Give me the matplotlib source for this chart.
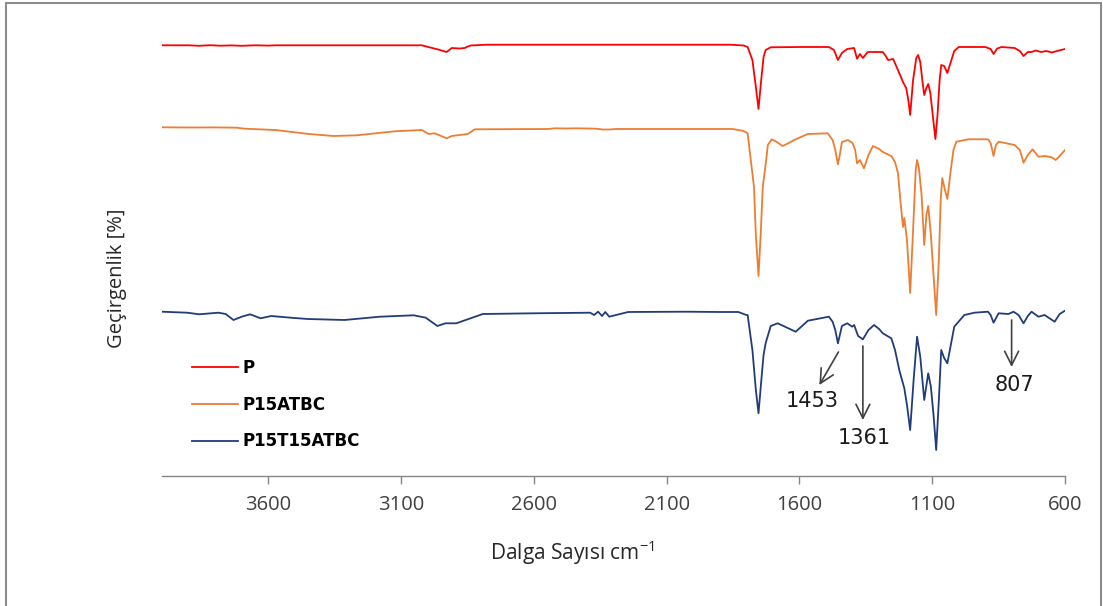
import numpy as np
import matplotlib.pyplot as plt
from matplotlib.patches import Rectangle
from matplotlib.lines import Line2D

# --- data (wavenumber cm-1, transmittance a.u.) ---
p_spec = [(4000, 430.7), (3900, 430.7), (3860, 430.2), (3820, 430.8), (3780, 430.3),
          (3740, 430.6), (3700, 430.2), (3650, 430.7), (3600, 430.4), (3570, 430.7),
          (3400, 430.7), (3200, 430.7), (3022, 430.7), (2990, 428.5), (2960, 426.5),
          (2928, 424), (2909, 428), (2880, 427.5), (2860, 428), (2849, 429.5),
          (2837, 430.5), (2777, 431.3), (2400, 431.3), (2000, 431.3), (1860, 431.3),
          (1810, 430.5), (1795, 429), (1777, 416), (1764, 389), (1754, 367),
          (1745, 393), (1735, 419), (1727, 426), (1708, 428.7), (1600, 429),
          (1489, 429), (1470, 426), (1455, 416), (1440, 423), (1420, 427),
          (1394, 428), (1383, 417.3), (1372, 422), (1361, 418), (1343, 424),
          (1286, 424), (1275, 420), (1266, 416), (1247, 417), (1229, 406),
          (1210, 394), (1198, 388), (1190, 376), (1183, 361), (1172, 396),
          (1160, 418), (1153, 421), (1145, 414), (1135, 391), (1130, 381),
          (1122, 388), (1115, 392), (1107, 383), (1098, 361), (1088, 337),
          (1080, 361), (1072, 396), (1066, 411), (1055, 410), (1043, 403),
          (1030, 414), (1017, 425), (1000, 429), (900, 429), (880, 427),
          (869, 422), (855, 427.5), (839, 429), (790, 428), (770, 425),
          (756, 420), (740, 424), (726, 424), (710, 425.5), (690, 424),
          (670, 425), (650, 423.5), (630, 425), (615, 426), (600, 427)]

p15atbc_spec = [(4000, 348.7), (3900, 348.5), (3800, 348.6), (3717, 348.3), (3690, 347.3),
                (3573, 346), (3447, 342), (3354, 340), (3267, 340.7), (3124, 344.7),
                (3022, 346), (2996, 342), (2973, 342.7), (2928, 337.7), (2909, 340),
                (2849, 342), (2822, 346.7), (2546, 347), (2520, 347.7), (2480, 347.5),
                (2440, 347.7), (2365, 347.3), (2340, 346.5), (2316, 346.5), (2290, 347),
                (1900, 347), (1851, 347), (1810, 345), (1795, 342.7), (1771, 289),
                (1764, 241), (1754, 200), (1745, 246), (1738, 289), (1725, 316),
                (1719, 331), (1704, 336.7), (1685, 334), (1663, 330), (1640, 333),
                (1620, 336), (1568, 342), (1493, 342.7), (1475, 336), (1465, 326),
                (1455, 311.7), (1448, 321), (1440, 334), (1417, 336), (1400, 333),
                (1390, 326), (1383, 312.7), (1372, 316), (1357, 307.7), (1340, 321),
                (1323, 330), (1300, 327), (1286, 324), (1254, 320), (1240, 314),
                (1229, 303), (1220, 276), (1210, 249), (1205, 258), (1195, 236),
                (1183, 183), (1172, 246), (1162, 306), (1157, 316), (1150, 308),
                (1140, 281), (1130, 231), (1122, 261), (1115, 270), (1105, 241),
                (1095, 201), (1085, 161), (1075, 216), (1068, 276), (1062, 298),
                (1052, 286), (1043, 277), (1030, 306), (1020, 326), (1009, 334.3),
                (964, 336.7), (890, 336.7), (880, 333), (869, 320), (860, 331),
                (850, 334.3), (790, 331), (770, 326), (756, 313.3), (740, 321),
                (722, 326.7), (700, 319.3), (675, 320), (650, 318.7), (635, 316),
                (620, 320), (600, 326)]

p15t15atbc_spec = [(4000, 164.3), (3905, 163.3), (3860, 161.7), (3788, 163.3), (3760, 162),
                   (3731, 156), (3700, 159.3), (3668, 161.7), (3629, 157.7), (3589, 160),
                   (3502, 158), (3450, 157), (3313, 156), (3180, 159.3), (3052, 160.7),
                   (3007, 158.3), (2963, 150), (2933, 152.7), (2892, 152.7), (2849, 156.7),
                   (2792, 162), (2602, 162.7), (2388, 163.3), (2373, 161), (2358, 164.3),
                   (2343, 160), (2331, 164), (2316, 159.3), (2245, 164), (2025, 164.3),
                   (1900, 164), (1830, 164), (1800, 161), (1795, 161), (1777, 126),
                   (1764, 86), (1754, 62.7), (1745, 91), (1735, 121), (1727, 133),
                   (1708, 150), (1682, 152.7), (1660, 150), (1644, 148), (1614, 144.3),
                   (1590, 150), (1568, 155.3), (1489, 159.3), (1475, 154.3), (1465, 146),
                   (1455, 132.7), (1440, 150), (1420, 152.7), (1401, 149.3), (1394, 151),
                   (1379, 140), (1361, 136.7), (1340, 146), (1319, 151), (1300, 147),
                   (1286, 142.7), (1254, 137.7), (1240, 126), (1224, 106), (1205, 87.7),
                   (1195, 71), (1183, 46), (1170, 96), (1157, 139.3), (1145, 119.3),
                   (1130, 76), (1115, 102.7), (1105, 89.3), (1095, 61), (1085, 26),
                   (1075, 76), (1066, 126), (1055, 118), (1043, 112.7), (1030, 131),
                   (1017, 149.3), (979, 161), (941, 163.3), (890, 164.3), (880, 161),
                   (869, 153.3), (850, 162.7), (813, 162), (794, 164.3), (775, 161),
                   (756, 152.7), (740, 160), (726, 164.3), (700, 159.3), (677, 161),
                   (660, 158), (639, 154.3), (620, 162), (600, 165.3)]

series = ['P', 'P15ATBC', 'P15T15ATBC']
colors = ['#FF0000', '#ED7D31', '#203C7A']
xticks = [3600, 3100, 2600, 2100, 1600, 1100, 600]

# peak labels: text, peak tip, arrow head, text position
peaks = [('1453', (1453, 124), (1525, 91), (1553, 75)),
         ('1361', (1361, 130), (1361, 56), (1357, 38)),
         ('807', (801, 156), (801, 109), (790, 91))]

W, H = 1103, 606
fig = plt.figure(figsize=(W / 100, H / 100), dpi=100)
ax = fig.add_axes([162 / W, 1 - 476 / H, 903 / W, 446 / H])

for spec, name, c in zip([p_spec, p15atbc_spec, p15t15atbc_spec], series, colors):
    d = np.array(spec)
    ax.plot(d[:, 0], d[:, 1], color=c, lw=1.3, label=name)

ax.set_xlim(4000, 600)
ax.set_ylim(0, 446)
ax.set_xticks(xticks)
ax.set_yticks([])
for s in ['left', 'right', 'top']:
    ax.spines[s].set_visible(False)
ax.spines['bottom'].set_color('#868686')
ax.spines['bottom'].set_linewidth(1.0)
ax.tick_params(axis='x', direction='out', length=6, width=1.0, color='#868686',
               pad=8, labelsize=14.5, labelcolor='#404040')
for lab in ax.get_xticklabels():
    lab.set_fontfamily('Open Sans')

for txt, tip, head, tpos in peaks:
    ax.annotate('', xy=head, xytext=tip,
                arrowprops=dict(arrowstyle='->,head_length=1.0,head_width=0.5',
                                color='#404040', lw=1.2, shrinkA=0, shrinkB=0))
    ax.text(tpos[0], tpos[1], txt, ha='center', va='center', fontsize=15,
            color='#1a1a1a', family='DejaVu Sans')

handles = [Line2D([], [], color=c, lw=1.3) for c in colors]
leg = ax.legend(handles, series, loc='upper left', bbox_to_anchor=(192 / W, 1 - 359 / H),
                bbox_transform=fig.transFigure, frameon=False, borderpad=0,
                borderaxespad=0, handlelength=2.75, handletextpad=0.3, labelspacing=1.12,
                prop={'weight': 'bold', 'size': 12, 'family': 'DejaVu Sans'})

fig.text(572 / W, 1 - 553 / H, r'Dalga Sayısı cm$^{\mathregular{-1}}$', ha='center', va='center',
         fontsize=15, family='Open Sans', color='#262626')
fig.text(117 / W, 1 - 278 / H, 'Geçirgenlik [%]', ha='center', va='center', rotation=90,
         fontsize=14.5, family='Open Sans', color='#262626')

fig.patches.append(Rectangle((6 / W, -0.01), (1101 - 6) / W, 1 - 3 / H + 0.01,
                             transform=fig.transFigure, fill=False,
                             edgecolor='#8c8c8c', lw=1.5))

fig.savefig('out.png', dpi=100)
